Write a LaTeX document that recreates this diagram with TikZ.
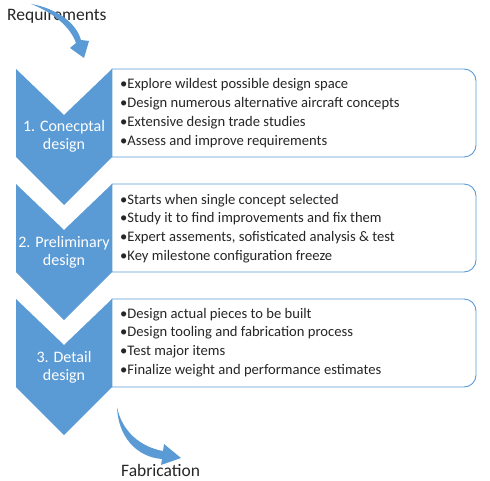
\documentclass[tikz,border=0pt]{standalone}
\usepackage{fontspec}
\setmainfont{Carlito}
\definecolor{cblue}{HTML}{5B9BD5}
\definecolor{ctext}{HTML}{262626}
\begin{document}
\begin{tikzpicture}[x=1bp,y=-1bp,
  chev/.style={fill=cblue,draw=none},
  infobox/.style={fill=white,draw=cblue,line width=0.9bp},
  bul/.style={anchor=base west,inner sep=0,text=ctext,font=\fontsize{14.6bp}{18bp}\selectfont},
  lab/.style={anchor=base,inner sep=0,text=white,font=\fontsize{16bp}{18bp}\selectfont},
  outer/.style={anchor=base west,inner sep=0,text=ctext,font=\fontsize{17.5bp}{20bp}\selectfont},
  curvarrow/.style={fill=cblue,draw=none}]
\useasboundingbox (0,0) rectangle (490,481);
% stages
\foreach \t/\n in {69/1,184/2,299/3}{
  \fill[chev] (16,\t) -- (64,\t+46) -- (112,\t) -- (112,\t+88) -- (64,\t+136) -- (16,\t+88) -- cycle;
  \draw[infobox] (112,\t) -- (464,\t) .. controls (470.6,\t) and (476,\t+5.4) .. (476,\t+12) -- (476,\t+76)
     .. controls (476,\t+82.6) and (470.6,\t+88) .. (464,\t+88) -- (112,\t+88) -- cycle;
}
\node[lab] (l1a) at (64,132) {1. Conecptal};
\node[lab] (l1b) at (64,150) {design};
\node[lab] (l2a) at (64,247) {2. Preliminary};
\node[lab] (l2b) at (64,265) {design};
\node[lab] (l3a) at (64,362) {3. Detail};
\node[lab] (l3b) at (64,380) {design};
% box 1
\node[bul] (b1a) at (120,89) {•Explore wildest possible design space};
\node[bul] (b1b) at (120,107.8) {•Design numerous alternative aircraft concepts};
\node[bul] (b1c) at (120,126.6) {•Extensive design trade studies};
\node[bul] (b1d) at (120,145.4) {•Assess and improve requirements};
% box 2
\node[bul] (b2a) at (120,204) {•Starts when single concept selected};
\node[bul] (b2b) at (120,222.8) {•Study it to find improvements and fix them};
\node[bul] (b2c) at (120,241.6) {•Expert assements, sofisticated analysis \& test};
\node[bul] (b2d) at (120,260.4) {•Key milestone configuration freeze};
% box 3
\node[bul] (b3a) at (120,318) {•Design actual pieces to be built};
\node[bul] (b3b) at (120,336.8) {•Design tooling and fabrication process};
\node[bul] (b3c) at (120,355.6) {•Test major items};
\node[bul] (b3d) at (120,374.4) {•Finalize weight and performance estimates};
% outer labels
\node[outer] (req) at (7,21) {Requirements};
\node[outer] (fab) at (121,476) {Fabrication};
% curved arrows
\fill[curvarrow] (31,4) .. controls (55,8) and (76,22) .. (81,40) -- (89,41) -- (84,58) -- (70,48) -- (76,43)
   .. controls (70,26) and (52,12) .. (31,4) -- cycle;
\fill[curvarrow] (117,407) .. controls (118,436) and (136,457) .. (162,459) -- (161,465) -- (181,458) -- (164,444) -- (163,451)
   .. controls (141,447) and (122,432) .. (117,407) -- cycle;
\end{tikzpicture}
\end{document}
